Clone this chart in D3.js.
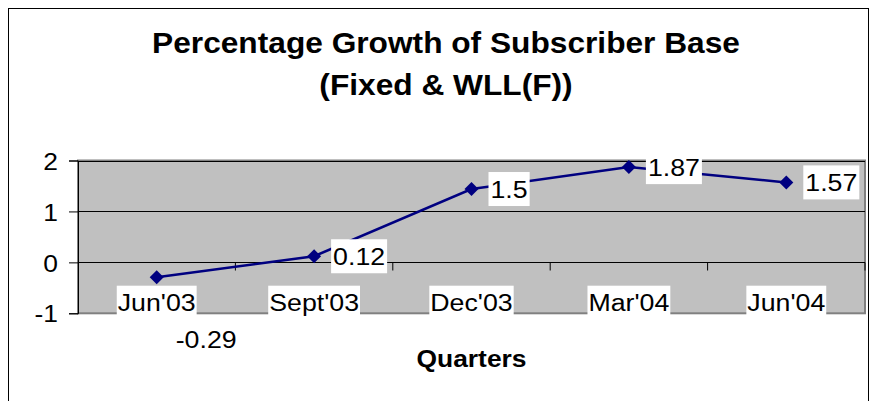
<!DOCTYPE html>
<html>
<head>
<meta charset="utf-8">
<script src="https://cdn.jsdelivr.net/npm/d3@7"></script>
<style>
    body { margin: 0; background: #fff; }
    text { font-family: "Liberation Sans", Arial, sans-serif; fill: #000; }
</style>
</head>
<body>
<div id="chart"></div>
<script>
// chart data
var quarters = ["Jun'03", "Sept'03", "Dec'03", "Mar'04", "Jun'04"];
var growth = [-0.29, 0.12, 1.44, 1.87, 1.57];
var growthLabels = ["-0.29", "0.12", "1.5", "1.87", "1.57"];
var yTicks = [-1, 0, 1, 2];
var titleLines = ["Percentage Growth of Subscriber Base", "(Fixed & WLL(F))"];
var xTitle = "Quarters";

var W = 875, H = 401,
    plot = {left: 78, right: 865, top: 160.5, bottom: 313.3},
    stretch = 1.1, // text in the original is a bit wider than tall
    navy = "#000080";

var svg = d3.select("#chart").append("svg")
    .attr("width", W)
    .attr("height", H);

// outer chart frame
svg.append("rect")
    .attr("x", 8.5).attr("y", 8.5)
    .attr("width", 860).attr("height", 420)
    .attr("fill", "#fff")
    .attr("stroke", "#000")
    .attr("stroke-width", 1);

var txt = function (parent, x, y, s, size, weight, anchor) {
    return parent.append("text")
        .attr("transform", "translate(" + x + "," + y + ") scale(" + stretch + ",1)")
        .attr("text-anchor", anchor || "middle")
        .style("font-size", size + "px")
        .style("font-weight", weight || "normal")
        .text(s);
};

// title
txt(svg, 446, 53, titleLines[0], 28.8, "bold");
txt(svg, 446, 95, titleLines[1], 28.8, "bold");

var x = d3.scaleBand()
    .domain(quarters)
    .range([plot.left, plot.right])
    .padding(0);

var y = d3.scaleLinear()
    .domain([-1, 2])
    .range([plot.bottom, plot.top]);

var cx = function (d, i) { return x(quarters[i]) + x.bandwidth() / 2; };
var cy = function (d) { return y(d); };

// plot background
svg.append("rect")
    .attr("x", plot.left).attr("y", plot.top)
    .attr("width", plot.right - plot.left)
    .attr("height", plot.bottom - plot.top)
    .attr("fill", "#c0c0c0")
    .attr("stroke", "#808080")
    .attr("stroke-width", 2);

// gridlines
svg.append("g")
    .selectAll("line")
    .data(yTicks.filter(function (t) { return t > 0; }))
    .enter().append("line")
    .attr("x1", plot.left).attr("x2", plot.right)
    .attr("y1", function (d) { return Math.round(y(d)) + 0.5; })
    .attr("y2", function (d) { return Math.round(y(d)) + 0.5; })
    .attr("stroke", "#000")
    .attr("stroke-width", 1);

// left axis
var yAxis = svg.append("g")
    .attr("transform", "translate(" + plot.left + ",0)")
    .call(d3.axisLeft(y).tickValues(yTicks).tickSize(9).tickFormat(function (d) { return String(d); }));
yAxis.select(".domain").attr("stroke", "#000");
yAxis.selectAll(".tick line").attr("stroke", "#000");
yAxis.selectAll(".tick text")
    .attr("x", -20 / stretch)
    .attr("dy", "0.36em")
    .attr("transform", "scale(" + stretch + ",1)")
    .style("font-family", "Liberation Sans, Arial, sans-serif")
    .style("font-size", "24px")
    .attr("fill", "#000");

// x axis along zero, ticks at category boundaries
var y0 = Math.round(y(0)) + 0.5;
svg.append("line")
    .attr("x1", plot.left).attr("x2", plot.right)
    .attr("y1", y0).attr("y2", y0)
    .attr("stroke", "#000");
svg.append("g")
    .selectAll("line")
    .data(quarters.slice(1).concat(["end"]))
    .enter().append("line")
    .attr("x1", function (d) { return d === "end" ? plot.right : x(d); })
    .attr("x2", function (d) { return d === "end" ? plot.right : x(d); })
    .attr("y1", y0).attr("y2", y0 + 8)
    .attr("stroke", "#000");

// category labels with white boxes
var catG = svg.append("g");
quarters.forEach(function (q, i) {
    var g = catG.append("g");
    var t = txt(g, cx(0, i), 311, q, 24.3);
    var w = t.node().getComputedTextLength() * stretch;
    g.insert("rect", "text")
        .attr("x", cx(0, i) - w / 2 - 1)
        .attr("y", 285.7)
        .attr("width", w + 2)
        .attr("height", 30)
        .attr("fill", "#fff");
});

// series line
svg.append("path")
    .datum(growth)
    .attr("fill", "none")
    .attr("stroke", navy)
    .attr("stroke-width", 2.5)
    .attr("d", d3.line().x(cx).y(cy));

// diamond markers
svg.append("g")
    .selectAll("path")
    .data(growth)
    .enter().append("path")
    .attr("transform", function (d, i) { return "translate(" + cx(d, i) + "," + cy(d) + ")"; })
    .attr("d", d3.symbol().type(d3.symbolDiamond2).size(125))
    .attr("fill", navy);

// data labels
growth.forEach(function (v, i) {
    var g = svg.append("g");
    var lx = cx(v, i) + 17,
        ly = v < 0 ? cy(v) + 62 : cy(v);
    var t = txt(g, lx + 2, ly + 8.5, growthLabels[i], 24.3, "normal", "start");
    var w = t.node().getComputedTextLength() * stretch;
    g.insert("rect", "text")
        .attr("x", lx)
        .attr("y", ly - 17)
        .attr("width", w + 4)
        .attr("height", 34)
        .attr("fill", "#fff");
});

// axis title
txt(svg, (plot.left + plot.right) / 2, 367, xTitle, 24, "bold");
</script>
</body>
</html>
